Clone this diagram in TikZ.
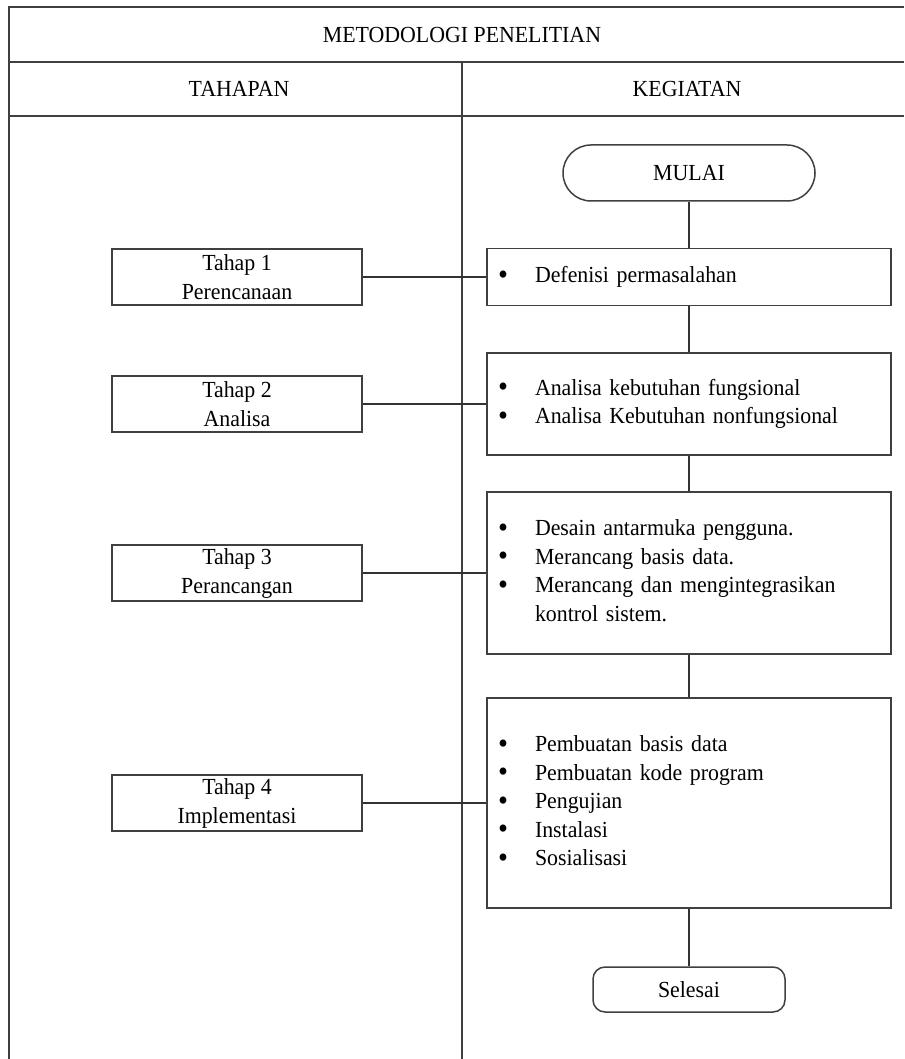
\documentclass[tikz,border=0pt]{standalone}
\usepackage{fontspec}
\setmainfont{Liberation Serif}[FakeStretch=0.95]
\usepackage{array}
\newcommand\bdot{\raisebox{-1.5pt}{\fontsize{30}{28}\selectfont\textbullet}}
\newcommand\blist[1]{\begin{tabular}{@{}p{37pt}@{}l@{}}#1\end{tabular}}
\begin{document}
\begin{tikzpicture}[x=1pt,y=-1pt,
  frame/.style={line width=1.5pt, draw=black!75},
  lbox/.style={draw=black!75, line width=1.5pt, minimum width=250pt, minimum height=56pt, align=center, inner sep=0pt, font=\fontsize{23}{29}\selectfont},
  rbox/.style={draw=black!75, line width=1.5pt, minimum width=404pt, text width=382pt, inner xsep=11pt, inner ysep=0pt, align=left, font=\fontsize{23}{28.5}\selectfont},
  term/.style={draw=black!75, line width=1.5pt, inner sep=0pt, font=\fontsize{23}{28}\selectfont},
  conn/.style={line width=1.5pt, draw=black!80},
  hdr/.style={font=\fontsize{23}{28}\selectfont, inner sep=0pt}
]
\useasboundingbox (0,0) rectangle (904,1059);
\fill[white] (0,0) rectangle (904,1059);

% frame
\coordinate (tl) at (9,7);
\coordinate (tr) at (904,7);
\coordinate (bl) at (9,1059);
\coordinate (r1l) at (9,62);
\coordinate (r1r) at (904,62);
\coordinate (r2l) at (9,116);
\coordinate (r2r) at (904,116);
\coordinate (dt) at (462,62);
\coordinate (db) at (462,1059);
\draw[frame] (tr) -- (tl) -- (bl);
\draw[frame] (r1l) -- (r1r);
\draw[frame] (r2l) -- (r2r);
\draw[frame] (dt) -- (db);

% headers
\node[hdr] (title) at (462,35) {METODOLOGI PENELITIAN};
\node[hdr] (tahapan) at (239,89) {TAHAPAN};
\node[hdr] (kegiatan) at (687,89) {KEGIATAN};

% right column
\node[term, minimum width=252pt, minimum height=56pt, rounded corners=28pt] (mulai) at (689,173) {MULAI};
\node[rbox, minimum height=57pt] (k1) at (689,277) {\blist{\bdot & Defenisi permasalahan\\}};
\node[rbox, minimum height=102pt] (k2) at (689,404) {\blist{\bdot & Analisa kebutuhan fungsional\\ \bdot & Analisa Kebutuhan nonfungsional\\}};
\node[rbox, minimum height=162pt] (k3) at (689,573) {\blist{\bdot & Desain antarmuka pengguna.\\ \bdot & Merancang basis data.\\ \bdot & Merancang dan mengintegrasikan\\ & kontrol sistem.\\}};
\node[rbox, minimum height=210pt] (k4) at (689,803) {\blist{\bdot & Pembuatan basis data\\ \bdot & Pembuatan kode program\\ \bdot & Pengujian\\ \bdot & Instalasi\\ \bdot & Sosialisasi\\}};
\node[term, minimum width=192pt, minimum height=45pt, rounded corners=12pt] (selesai) at (689,989.5) {Selesai};

% left column
\node[lbox] (t1) at (237,277) {Tahap 1\\Perencanaan};
\node[lbox] (t2) at (237,404) {Tahap 2\\Analisa};
\node[lbox] (t3) at (237,573) {Tahap 3\\Perancangan};
\node[lbox] (t4) at (237,803) {Tahap 4\\Implementasi};

% connectors
\draw[conn] (mulai) -- (k1);
\draw[conn] (k1) -- (k2);
\draw[conn] (k2) -- (k3);
\draw[conn] (k3) -- (k4);
\draw[conn] (k4) -- (selesai);
\draw[conn] (t1) -- (k1);
\draw[conn] (t2) -- (k2);
\draw[conn] (t3) -- (k3);
\draw[conn] (t4) -- (k4);
\end{tikzpicture}
\end{document}
